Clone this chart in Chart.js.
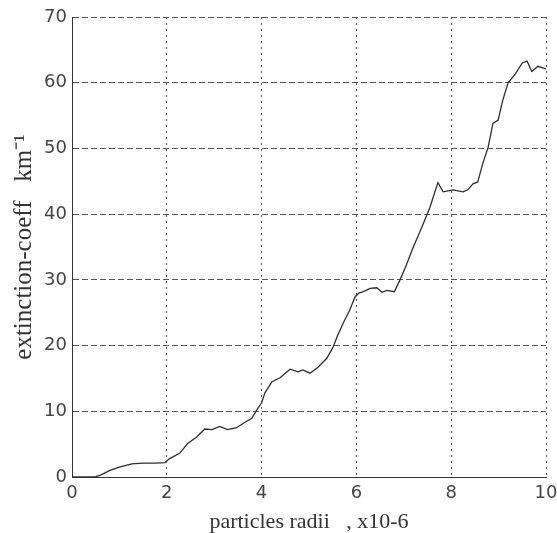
<!DOCTYPE html>
<html>
<head>
<meta charset="utf-8">
<script src="https://cdn.jsdelivr.net/npm/chart.js@4.4.1/dist/chart.umd.min.js"></script>
<style>
    body { margin: 0; background: #ffffff; }
    .wrap { width: 557px; height: 533px; }
</style>
</head>
<body>
<div class="wrap"><canvas id="extChart"></canvas></div>
<script>
// particle radius (x10-6) and extinction coefficient (km^-1)
const radii = [
    0, 0.2, 0.4, 0.5, 0.6, 0.8, 1.0, 1.26, 1.5, 1.75, 1.96,
    2.06, 2.27, 2.44, 2.63, 2.8, 2.95, 3.12, 3.28, 3.47, 3.64, 3.79, 3.9,
    4.0, 4.07, 4.22, 4.39, 4.6, 4.77, 4.87, 5.02, 5.19, 5.38, 5.51, 5.59, 5.72, 5.86, 5.97,
    6.05, 6.15, 6.29, 6.43, 6.54, 6.64, 6.8, 6.92, 7.05, 7.19, 7.38, 7.55, 7.72, 7.83,
    8.04, 8.25, 8.35, 8.46, 8.56, 8.67, 8.78, 8.88, 8.99, 9.09, 9.2, 9.35, 9.5, 9.6, 9.7, 9.83, 9.92, 10.0
];
const coeff = [
    0, 0, 0, 0.05, 0.3, 1.0, 1.5, 2.0, 2.1, 2.1, 2.2,
    2.8, 3.6, 5.1, 6.1, 7.3, 7.2, 7.7, 7.2, 7.5, 8.3, 8.9, 10.2,
    11.3, 12.8, 14.5, 15.1, 16.4, 16.0, 16.3, 15.8, 16.7, 18.1, 19.8, 21.3, 23.4, 25.4, 27.4,
    28.0, 28.2, 28.7, 28.8, 28.1, 28.4, 28.2, 30.0, 32.2, 34.8, 38.0, 41.0, 44.8, 43.4,
    43.7, 43.4, 43.7, 44.6, 44.9, 47.8, 50.2, 53.8, 54.3, 57.4, 60.0, 61.3, 63.0, 63.3, 61.7, 62.5, 62.3, 62.1
];
const xRange = [0, 10];
const yRange = [0, 70];

const tickFont = { family: "'DejaVu Sans', sans-serif", size: 18 };
const serif = "'Liberation Serif', 'Times New Roman', serif";

const ctx = document.getElementById("extChart").getContext("2d");
const extChart = new Chart(ctx, {
    type: "line",
    data: {
        datasets: [{
            data: radii.map((r, i) => ({ x: r, y: coeff[i] })),
            borderColor: "#2e2e2e",
            borderWidth: 1.3,
            pointRadius: 0,
            tension: 0,
            fill: false,
        }]
    },
    options: {
        responsive: true,
        maintainAspectRatio: false,
        animation: false,
        layout: {
            padding: { top: 17, right: 11, bottom: 0, left: 0 }
        },
        plugins: {
            legend: { display: false },
            tooltip: { enabled: false },
        },
        scales: {
            x: {
                type: "linear",
                min: xRange[0],
                max: xRange[1],
                // let the "10" hang over the right edge instead of shrinking the plot
                afterFit: (scale) => {
                    scale.height = 56;
                    scale.paddingRight = 0;
                    scale.paddingLeft = 0;
                },
                grid: {
                    color: "#555",
                    lineWidth: 1,
                    drawTicks: false,
                },
                border: {
                    color: "#333",
                    width: 1,
                    dash: [2, 4],
                },
                ticks: {
                    stepSize: 2,
                    padding: 6,
                    color: "#444",
                    font: tickFont,
                    maxRotation: 0,
                },
                title: {
                    display: true,
                    text: "particles radii   , x10-6",
                    color: "#333",
                    font: { family: serif, size: 22, lineHeight: 1 },
                    padding: { top: 0, bottom: 0 },
                },
            },
            y: {
                min: yRange[0],
                max: yRange[1],
                afterFit: (scale) => { scale.width = 72; },
                grid: {
                    color: "#555",
                    lineWidth: 1,
                    drawTicks: false,
                },
                border: {
                    color: "#333",
                    width: 1,
                    dash: [6, 3],
                },
                ticks: {
                    stepSize: 10,
                    padding: 5,
                    color: "#444",
                    font: tickFont,
                },
                title: {
                    display: true,
                    text: "extinction-coeff   km\u207B\u00B9",
                    color: "#333",
                    font: { family: serif, size: 25, lineHeight: 1 },
                    padding: { top: 12, bottom: 0 },
                },
            },
        },
    },
});
</script>
</body>
</html>
